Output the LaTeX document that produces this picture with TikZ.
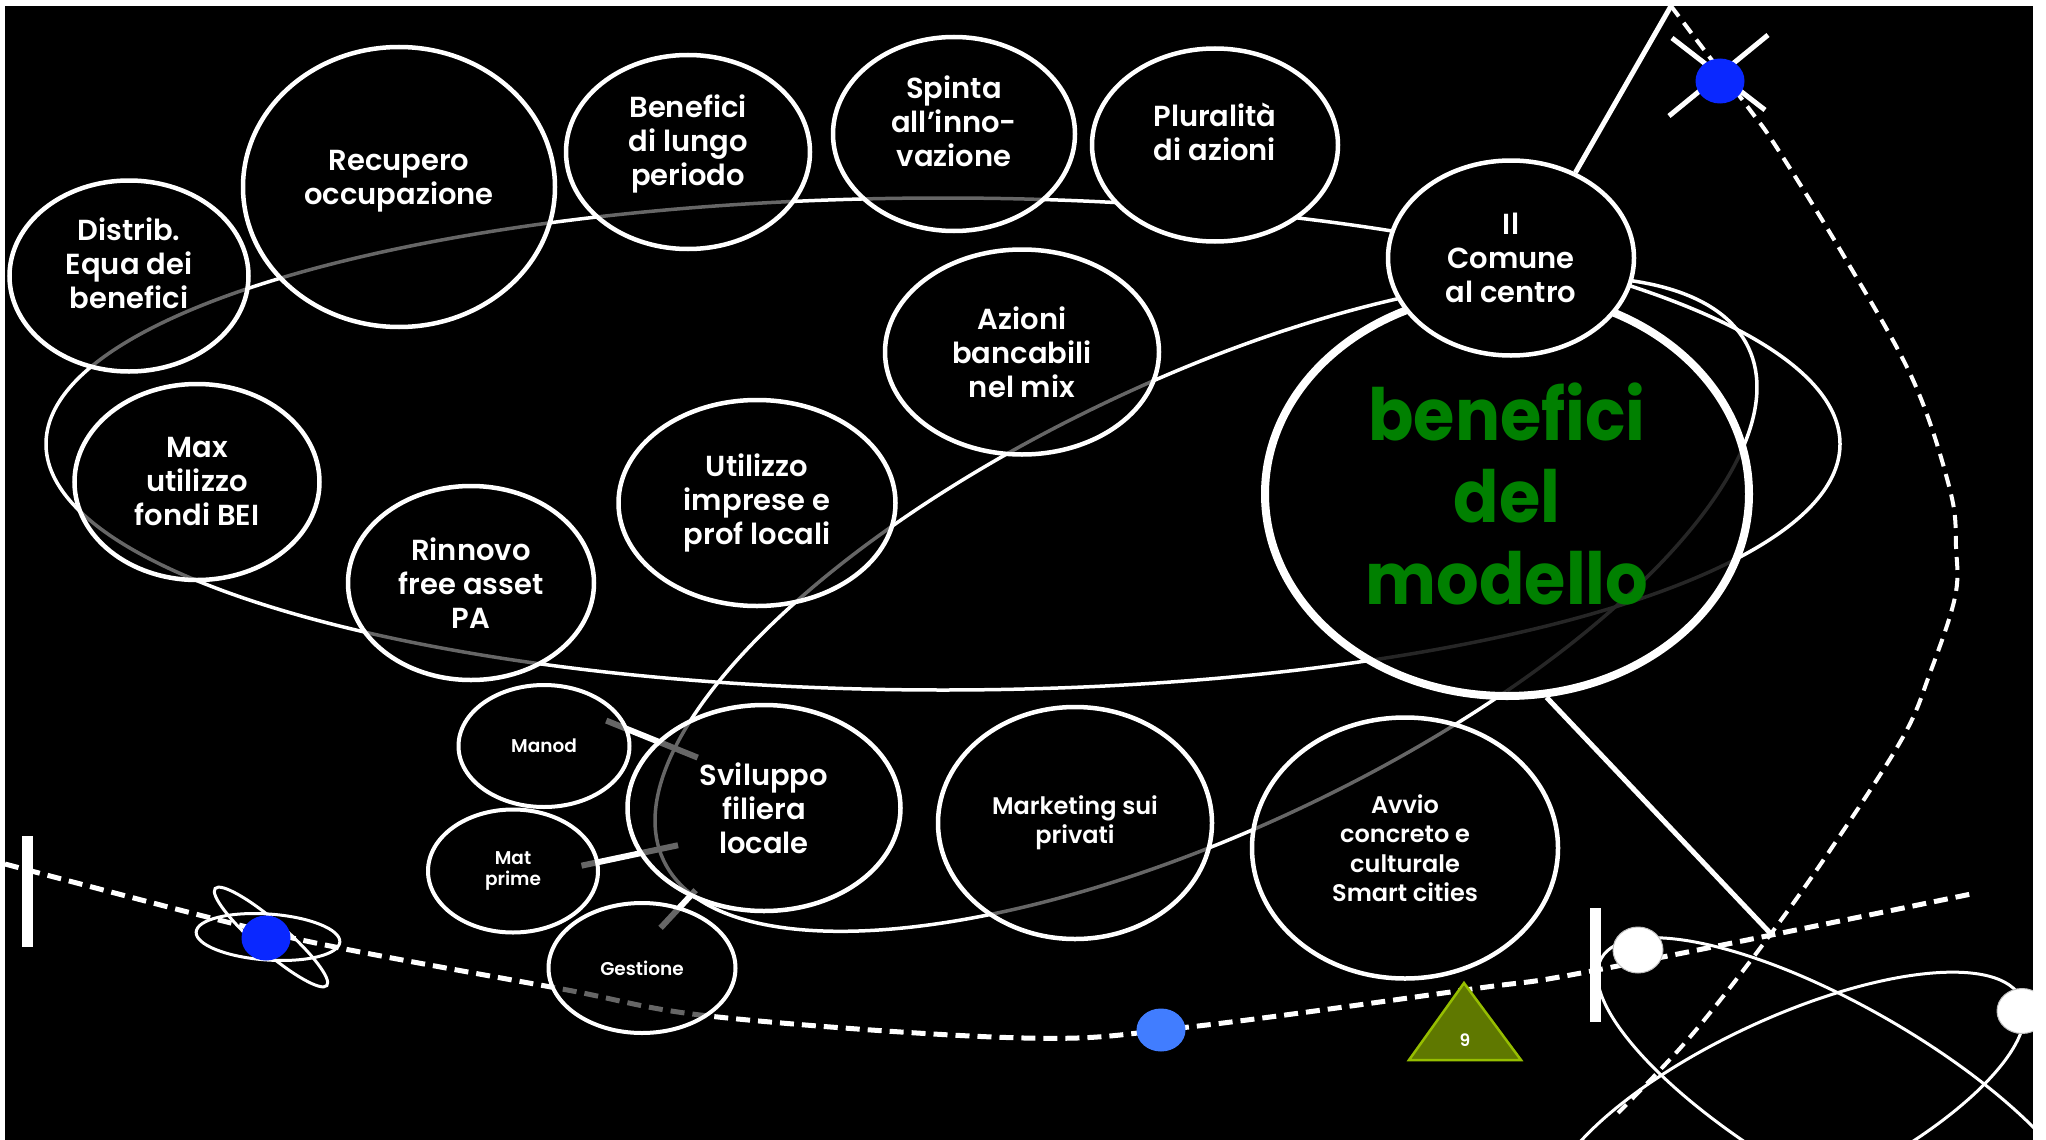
\documentclass[tikz,border=0pt]{standalone}
\usepackage{fontspec}
\setmainfont{Poppins}[BoldFont={* SemiBold}]
\newfontfamily\heavyfont{Poppins}[UprightFont={* Bold}]
\usepackage{tikz}
\usepackage{xcolor}
\usetikzlibrary{shapes.geometric}
\definecolor{leafgreen}{RGB}{0,128,0}
\definecolor{orbblue}{RGB}{10,40,255}
\definecolor{skyblue}{RGB}{65,125,255}
\definecolor{olivenine}{RGB}{95,120,0}
\definecolor{olivelight}{RGB}{150,190,0}
\newcommand{\liftup}[2]{\raisebox{#1}{\smash{\begin{tabular}{@{}c@{}}#2\end{tabular}}}}
\tikzstyle{bubble} = [ellipse, draw=white, line width=4.5pt, fill=black, fill opacity=0.6, text opacity=1, text=white, inner sep=0pt, align=center, font=\bfseries\fontsize{29}{34}\selectfont]
\tikzstyle{solidbubble} = [bubble, fill opacity=1]
\tikzstyle{midbubble} = [bubble, font=\bfseries\fontsize{24}{29.5}\selectfont]
\tikzstyle{smallbubble} = [bubble, line width=4pt, font=\bfseries\fontsize{18.5}{21}\selectfont]
\tikzstyle{bigbubble} = [bubble, line width=8pt, fill opacity=0.85, text=leafgreen, font=\heavyfont\fontsize{72}{82}\selectfont\addfontfeature{FakeStretch=0.93}]
\tikzstyle{orbit} = [white, line width=3.5pt]
\tikzstyle{dashline} = [white, line width=5pt, dash pattern=on 14pt off 8pt]
\tikzstyle{rodline} = [white, line width=5pt]
\tikzstyle{stub} = [white, line width=6pt]
\tikzstyle{tickbar} = [white, line width=11pt]
\pgfdeclarelayer{back}
\pgfsetlayers{back,main}

\begin{document}
\begin{tikzpicture}[x=1pt, y=-1pt]

        \useasboundingbox (0,0) rectangle (2046,1140);
        \begin{scope}
        \clip (5,6) rectangle (2033,1140);

        \node (modello) [bigbubble, minimum width=484, minimum height=404] at (1507,494) {benefici\\del\\modello};
        \node (comune) [solidbubble, minimum width=246, minimum height=195] at (1511,258) {Il\\Comune\\al centro};
        \node (plural) [solidbubble, minimum width=246, minimum height=193] at (1215,145) {\liftup{5pt}{Pluralità\\di azioni}};
        \node (distrib) [bubble, minimum width=239, minimum height=191] at (129,276) {\liftup{4pt}{Distrib.\\Equa dei\\benefici}};
        \node (recupero) [bubble, minimum width=312, minimum height=280] at (399,187) {\liftup{0pt}{Recupero\\occupazione}};
        \node (lungo) [bubble, minimum width=244, minimum height=194] at (688,152) {\liftup{2pt}{Benefici\\di lungo\\periodo}};
        \node (spinta) [bubble, minimum width=242, minimum height=194] at (954,134) {\liftup{4pt}{Spinta\\all’inno-\\vazione}};
        \node (azioni) [bubble, minimum width=274, minimum height=205] at (1022,352) {Azioni\\bancabili\\nel mix};
        \node (maxfondi) [bubble, minimum width=245, minimum height=196] at (197,482) {Max\\utilizzo\\fondi BEI};
        \node (rinnovo) [bubble, minimum width=246, minimum height=194] at (471,583) {Rinnovo\\free asset\\PA};
        \node (utilizzo) [bubble, minimum width=277, minimum height=206] at (757,503) {Utilizzo\\imprese e\\prof locali};
        \node (svil) [bubble, minimum width=273, minimum height=206] at (764,808) {Sviluppo\\filiera\\locale};
        \node (manod) [smallbubble, minimum width=171, minimum height=122] at (544,746) {Manod};
        \node (matprime) [smallbubble, minimum width=170, minimum height=123] at (513,871) {Mat\\prime};
        \node (gestione) [smallbubble, minimum width=187, minimum height=130] at (642,968) {Gestione};
        \node (marketing) [midbubble, minimum width=274, minimum height=232] at (1075,823) {Marketing sui\\privati};
        \node (avvio) [midbubble, minimum width=306, minimum height=261] at (1405,848) {Avvio\\concreto e\\culturale\\Smart cities};

        \draw [rodline] (1672,38) -- (1765,110);
        \draw [rodline] (1768,35) -- (1669,116);
        \fill [orbblue] (1720,81) ellipse [x radius=24.5, y radius=22.5];
        \draw [orbit, line width=3pt, rotate around={-4:(268,937)}] (268,937) ellipse [x radius=72, y radius=23];
        \draw [orbit, line width=3pt, rotate around={-41:(271,937)}] (271,937) ellipse [x radius=74, y radius=15];
        \fill [orbblue] (266,938) ellipse [x radius=24.5, y radius=22.5];
        \fill [skyblue] (1161,1030) ellipse [x radius=24.5, y radius=21.5];
        \filldraw [fill=white, draw=gray!50, line width=1pt] (1638,950) ellipse [x radius=25, y radius=23];
        \filldraw [fill=white, draw=gray!50, line width=1pt] (2022,1011) ellipse [x radius=25, y radius=22.5];
        \draw [tickbar] (27,836) -- (27,947);
        \draw [tickbar] (1595,908) -- (1595,1022);
        \filldraw [fill=olivenine, draw=olivelight, line width=2.5pt] (1464,983) -- (1521,1060) -- (1409,1060) -- cycle;
        \node (nine) [text=white, font=\bfseries\fontsize{17}{20}\selectfont] at (1465,1040) {9};
        \end{scope}

        \begin{pgfonlayer}{back}
        \fill [white] (0,0) rectangle (2046,1140);
        \fill [black] (5,6) rectangle (2033,1140);
        \clip (5,6) rectangle (2033,1140);
        \draw [orbit] (943,444) ellipse [x radius=897, y radius=246];
        \draw [orbit, rotate around={25.3:(1206,604)}] (1206,604) ellipse [x radius=600, y radius=225];
        \draw [orbit, line width=3pt, rotate around={-30:(1844,1098)}] (1844,1098) ellipse [x radius=280, y radius=90];
        \draw [orbit, line width=3pt, rotate around={25:(1786,1109)}] (1786,1109) ellipse [x radius=260, y radius=90];
        \draw [dashline] plot [smooth, tension=0.6] coordinates {(5,864) (215,919) (340,948) (562,989) (718,1017) (1024,1038) (1189,1027) (1472,989) (1597,970) (1976,893)};
        \draw [dashline, line width=4pt, dash pattern=on 13pt off 8pt] plot [smooth, tension=0.6] coordinates {(1671,6) (1708,55) (1750,110) (1777,148) (1845,258) (1913,380) (1950,490) (1956,547) (1955,597) (1930,673) (1903,737) (1837,840) (1770,935) (1690,1037) (1618,1113)};
        \coordinate (apex) at (1671,6);
        \coordinate (cross) at (1772,935);
        \draw [rodline] (apex) -- (comune.53);
        \draw [rodline] (modello.281) -- (cross);
        \draw [stub, shorten <=-24pt, shorten >=-44pt] (manod.11) -- (svil.148);
        \draw [stub, shorten <=-18pt, shorten >=-40pt] (matprime.6) -- (svil.200);
        \draw [stub, shorten <=-29pt, shorten >=-9pt] (gestione.58) -- (svil.230);
        \end{pgfonlayer}

\end{tikzpicture}
\end{document}
